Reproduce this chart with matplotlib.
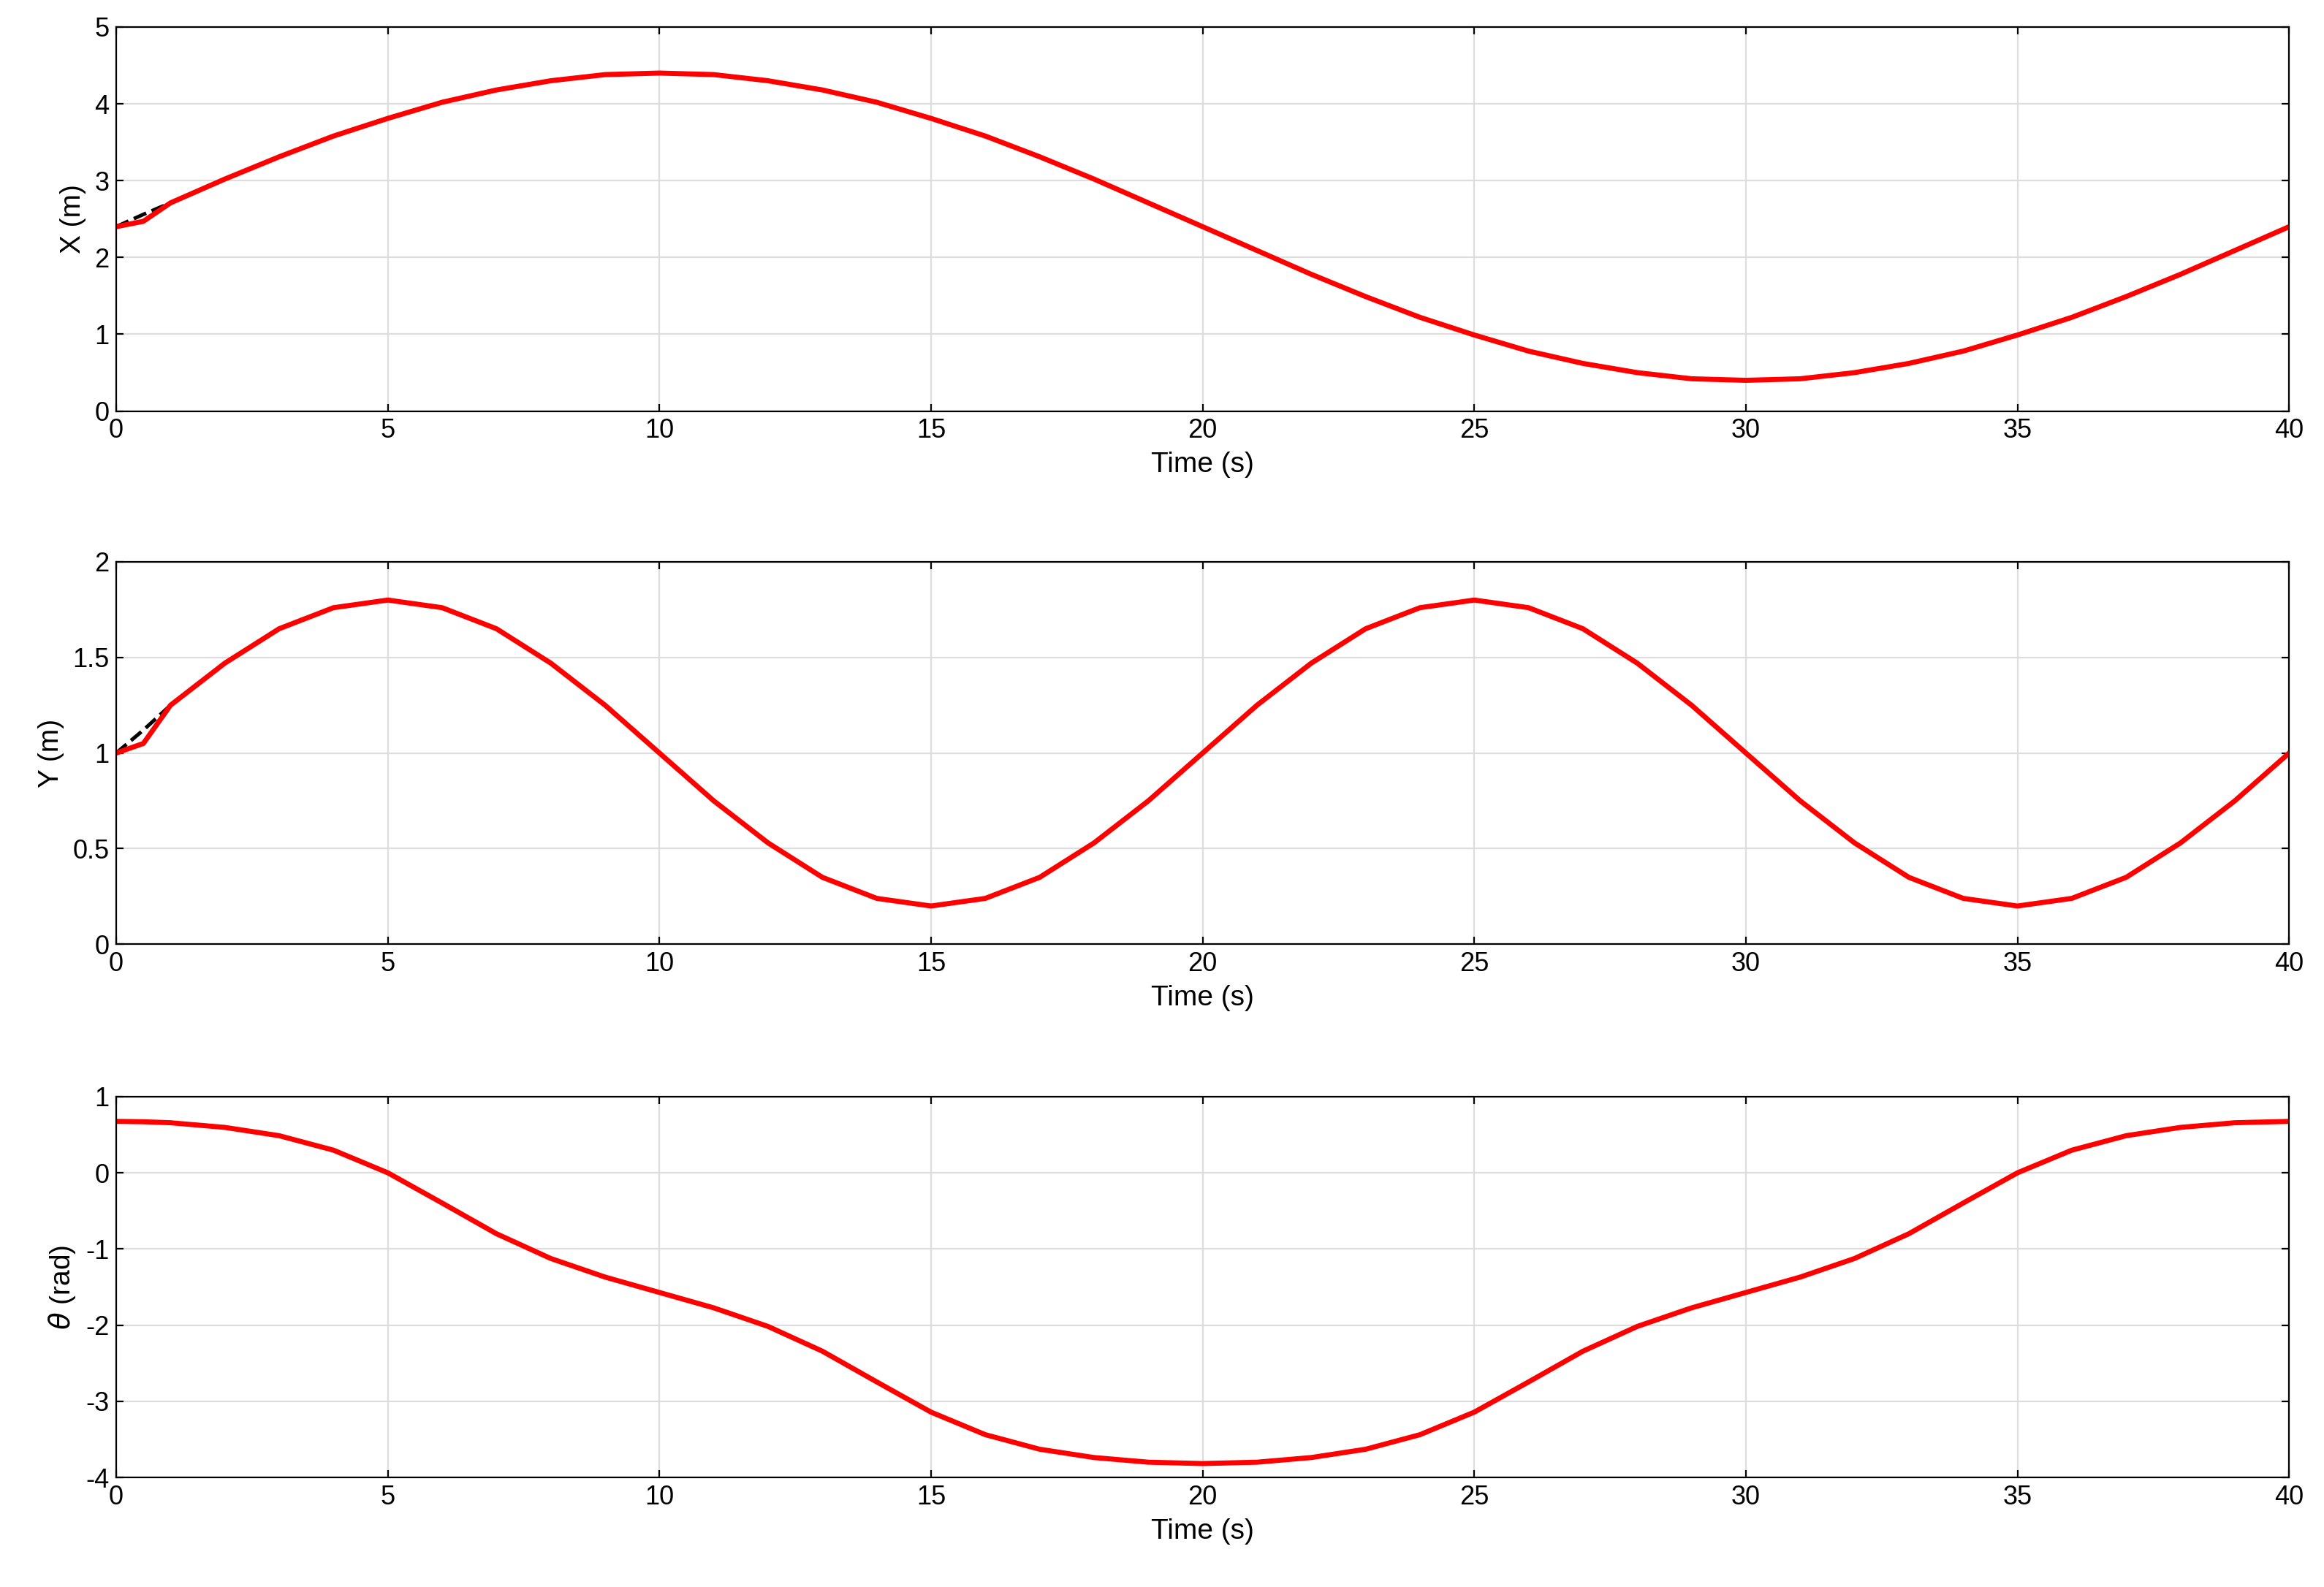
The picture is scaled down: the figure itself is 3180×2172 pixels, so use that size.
import matplotlib.pyplot as plt
import numpy as np

plt.rcParams['font.family'] = ['Liberation Sans', 'DejaVu Sans']

# time samples (s)
t = [0, 0.5] + list(range(1, 41))

# reference X (m)
x_ref = [2.40, 2.56, 2.71, 3.02, 3.31, 3.58, 3.81, 4.02, 4.18, 4.30, 4.38, 4.40,
         4.38, 4.30, 4.18, 4.02, 3.81, 3.58, 3.31, 3.02, 2.71, 2.40,
         2.09, 1.78, 1.49, 1.22, 0.99, 0.78, 0.62, 0.50, 0.42, 0.40,
         0.42, 0.50, 0.62, 0.78, 0.99, 1.22, 1.49, 1.78, 2.09, 2.40]
x_act = [2.40, 2.47] + x_ref[2:]

# reference Y (m)
y_one = [1.00, 1.25, 1.47, 1.65, 1.76, 1.80, 1.76, 1.65, 1.47, 1.25,
         1.00, 0.75, 0.53, 0.35, 0.24, 0.20, 0.24, 0.35, 0.53, 0.75]
y_ref = [1.00, 1.12] + y_one[1:] + y_one + [1.00]
y_act = [1.00, 1.05] + y_ref[2:]

# heading theta (rad)
th_half = [0.675, 0.657, 0.596, 0.487, 0.297, 0.0, -0.397, -0.80, -1.125, -1.369,
           -1.571, -1.773, -2.017, -2.342, -2.745, -3.142, -3.438, -3.629, -3.738,
           -3.799, -3.817]
th_ref = [0.675, 0.67] + th_half[1:] + th_half[-2::-1]
th_act = th_ref

fig = plt.figure(figsize=(15.9, 10.86), dpi=200)
rows = [(0.741, 0.242), (0.405, 0.241), (0.069, 0.240)]
series = [(x_ref, x_act, 'X (m)', (0, 5), np.arange(0, 6, 1)),
          (y_ref, y_act, 'Y (m)', (0, 2), np.arange(0, 2.01, 0.5)),
          (th_ref, th_act, r'$\theta$ (rad)', (-4, 1), np.arange(-4, 2, 1))]

for (b, h), (ref, act, lab, yl, yt) in zip(rows, series):
    ax = fig.add_axes([0.05, b, 0.935, h])
    ax.plot(t, ref, 'k--', lw=1.8)
    ax.plot(t, act, color='red', lw=2.5)
    ax.set_xlim(0, 40)
    ax.set_ylim(*yl)
    ax.set_xticks(range(0, 41, 5))
    ax.set_yticks(yt)
    ax.set_yticklabels([f'{v:g}' for v in yt])
    ax.grid(True, color='#dddddd', lw=0.8)
    ax.tick_params(direction='in', top=True, right=True, labelsize=13)
    ax.set_xlabel('Time (s)', fontsize=14)
    ax.set_ylabel(lab, fontsize=14)

plt.savefig('out.png', dpi=200)
plt.close()
